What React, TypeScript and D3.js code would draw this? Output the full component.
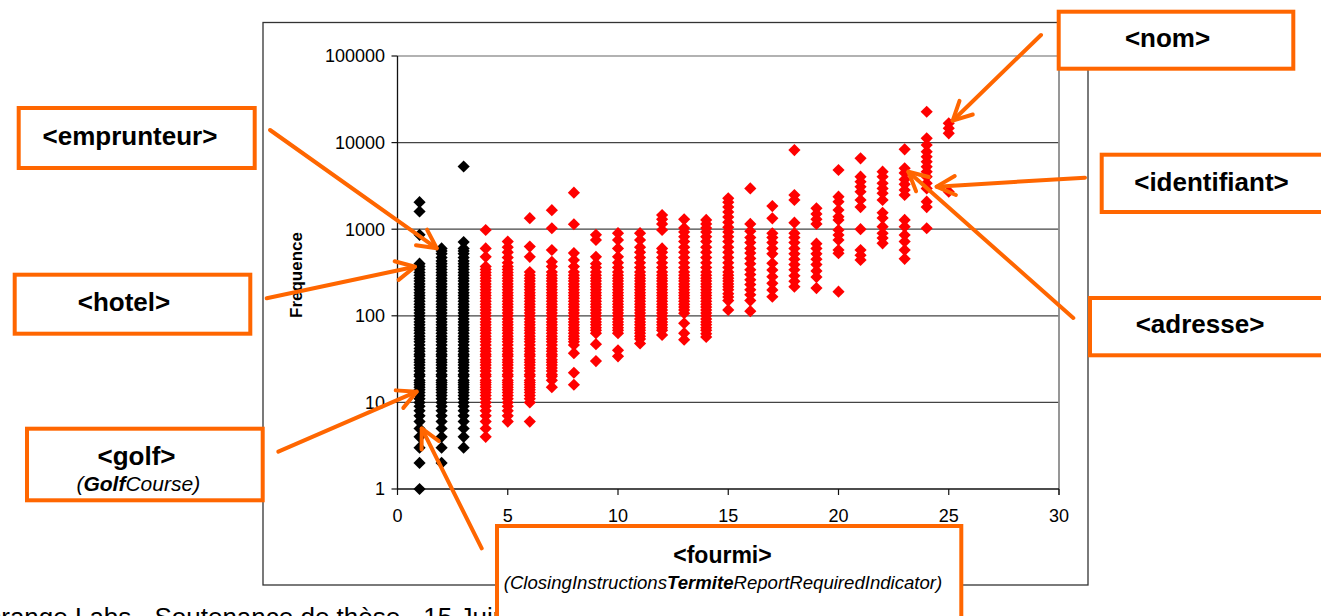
import React from 'react';
import * as d3 from 'd3';

// ---------- data ----------
const xTicks = [0, 5, 10, 15, 20, 25, 30];
const yTicks = [1, 10, 100, 1000, 10000, 100000];

const col1 = [1, 2, 3, 4, 5, 6, 7, 8, 9, 10, 11, 12, 13, 14, 15, 16, 17, 18, 20, 21, 23, 25, 27, 29, 31, 34, 36, 39, 42, 46, 50, 54, 58, 63, 68, 73, 79, 85, 92, 100, 108, 117, 126, 136, 147, 159, 172, 185, 200, 216, 233, 252, 272, 294, 317, 343, 370, 400, 860, 1600, 2050];
const col2 = [2, 3, 4, 5, 6, 7, 8, 9, 10, 11, 12, 13, 14, 15, 16, 17, 18, 20, 21, 23, 25, 27, 29, 31, 34, 36, 39, 42, 46, 50, 54, 58, 63, 68, 73, 79, 85, 92, 100, 108, 117, 126, 136, 147, 159, 172, 185, 200, 216, 233, 252, 272, 294, 317, 343, 370, 400, 430, 470, 520, 560, 600];
const col3 = [3, 4, 5, 6, 7, 8, 9, 10, 11, 12, 13, 14, 15, 16, 17, 18, 20, 21, 23, 25, 27, 29, 31, 34, 36, 39, 42, 46, 50, 54, 58, 63, 68, 73, 79, 85, 92, 100, 108, 117, 126, 136, 147, 159, 172, 185, 200, 216, 233, 252, 272, 294, 317, 343, 370, 400, 430, 470, 520, 560, 600, 710, 5300];
const col4 = [4, 5, 6, 7, 8, 9, 10, 11, 12, 13, 14, 15, 16, 17, 18, 20, 21, 23, 25, 27, 29, 31, 34, 36, 39, 42, 46, 50, 54, 58, 63, 68, 73, 79, 85, 92, 100, 108, 117, 126, 136, 147, 159, 172, 185, 200, 216, 233, 252, 272, 294, 317, 343, 370, 480, 600, 980];
const col5 = [6, 7, 8, 9, 10, 11, 12, 13, 14, 15, 16, 17, 18, 20, 21, 23, 25, 27, 29, 31, 34, 36, 39, 42, 46, 50, 54, 58, 63, 68, 73, 79, 85, 92, 100, 108, 117, 126, 136, 147, 159, 172, 185, 200, 216, 233, 252, 272, 294, 317, 343, 370, 410, 470, 540, 620, 720];
const col6 = [6, 10, 11, 12, 13, 14, 15, 16, 17, 18, 20, 21, 23, 25, 27, 29, 31, 34, 36, 39, 42, 46, 50, 54, 58, 63, 68, 73, 79, 85, 92, 100, 108, 117, 126, 136, 147, 159, 172, 185, 200, 216, 233, 252, 272, 294, 320, 480, 630, 1340];
const col7 = [15, 18, 20, 21, 23, 25, 27, 29, 31, 34, 36, 39, 42, 46, 50, 54, 58, 63, 68, 73, 79, 85, 92, 100, 108, 117, 126, 136, 147, 159, 172, 185, 200, 216, 233, 252, 272, 294, 320, 370, 420, 575, 1025, 1660];
const col8 = [16, 22, 37, 46, 50, 54, 58, 63, 68, 73, 79, 85, 92, 100, 108, 117, 126, 136, 147, 159, 172, 185, 200, 216, 233, 252, 272, 294, 320, 370, 440, 530, 1140, 2640];
const col9 = [30, 47, 63, 68, 73, 79, 85, 92, 100, 108, 117, 126, 136, 147, 159, 172, 185, 200, 216, 233, 252, 272, 294, 320, 360, 400, 480, 750, 860];
const col10 = [34, 40, 63, 68, 73, 79, 85, 92, 100, 108, 117, 126, 136, 147, 159, 172, 185, 200, 216, 233, 252, 272, 294, 320, 360, 410, 480, 600, 750, 900];
const col11 = [48, 54, 58, 63, 68, 73, 79, 85, 92, 100, 108, 117, 126, 136, 147, 159, 172, 185, 200, 216, 233, 252, 272, 294, 320, 360, 410, 470, 540, 620, 750, 900];
const col12 = [60, 68, 73, 79, 85, 92, 100, 108, 117, 126, 136, 147, 159, 172, 185, 200, 216, 233, 252, 272, 294, 320, 360, 410, 470, 540, 600, 980, 1150, 1300, 1460];
const col13 = [53, 63, 82, 107, 117, 126, 136, 147, 159, 172, 185, 200, 216, 233, 252, 272, 294, 320, 360, 410, 470, 540, 620, 720, 820, 930, 1030, 1300];
const col14 = [57, 62, 68, 73, 79, 85, 92, 100, 108, 117, 126, 136, 147, 159, 172, 185, 200, 216, 233, 252, 272, 294, 320, 360, 410, 470, 540, 620, 720, 820, 930, 1030, 1150, 1280];
const col15 = [117, 150, 165, 180, 200, 216, 233, 252, 272, 294, 320, 360, 410, 470, 540, 620, 720, 820, 930, 1050, 1200, 1380, 1580, 1800, 2050, 2270];
const col16 = [113, 150, 175, 200, 230, 260, 300, 340, 400, 460, 530, 600, 700, 800, 950, 1150, 2960];
const col17 = [166, 199, 237, 283, 338, 404, 520, 600, 700, 800, 898, 1335, 1850];
const col18 = [217, 250, 290, 340, 390, 450, 520, 600, 700, 800, 900, 1190, 2175, 2480, 8200];
const col19 = [209, 280, 330, 390, 450, 520, 600, 680, 1150, 1300, 1500, 1740];
const col20 = [190, 527, 575, 750, 857, 980, 1280, 1395, 1667, 2080, 2375, 4830];
const col21 = [441, 500, 575, 1000, 1800, 2175, 2710, 3100, 3540, 4040, 6580];
const col22 = [687, 790, 898, 1070, 1350, 1550, 2175, 2600, 2960, 3390, 4040, 4620];
const col23 = [455, 575, 720, 857, 1070, 1280, 2480, 2836, 3300, 3760, 4470, 5050, 8360];
const col24 = [1025, 1800, 2080, 2960, 3390, 4040, 4620, 5270, 6020, 6870, 7860, 9380, 11200, 22700];
const col25 = [2710, 12800, 14600, 16700];

const columns: [number, number[]][] = [
  [1, col1], [2, col2], [3, col3], [4, col4], [5, col5], [6, col6], [7, col7],
  [8, col8], [9, col9], [10, col10], [11, col11], [12, col12], [13, col13],
  [14, col14], [15, col15], [16, col16], [17, col17], [18, col18], [19, col19],
  [20, col20], [21, col21], [22, col22], [23, col23], [24, col24], [25, col25],
];
const lastBlackX = 3;

// annotation targets (data coordinates)
const targets: { [k: string]: [number, number] } = {
  emprunteur: [1.78, 602],
  hotel: [0.79, 369],
  golf: [0.87, 13.3],
  fourmi: [1.1, 5.0],
  nom: [25.18, 17900],
  identifiant: [24.45, 3100],
  adresse: [23.17, 4610],
};

// ---------- layout ----------
const W = 1321, H = 616;
const PLOT = { left: 397.5, right: 1059, top: 56, bottom: 489 };
const FRAME = { x: 263, y: 22.5, w: 825, h: 562.5 };
const FONT = '"Liberation Sans", Arial, Helvetica, sans-serif';
const ORANGE = '#FF6600';

const boxes = [
  { key: 'emprunteur', x: 18.7, y: 108, w: 236, h: 60, from: [270, 130] },
  { key: 'hotel', x: 14.7, y: 274.7, w: 235.6, h: 59, from: [266.7, 298.3] },
  { key: 'golf', x: 27, y: 428.7, w: 235.7, h: 71.6, from: [278.3, 451.7] },
  { key: 'fourmi', x: 497, y: 526, w: 464.3, h: 130, from: [481.7, 548.3] },
  { key: 'nom', x: 1058.7, y: 11.7, w: 234.6, h: 57, from: [1041, 35] },
  { key: 'identifiant', x: 1101.7, y: 154.7, w: 260, h: 57.3, from: [1085, 177.7] },
  { key: 'adresse', x: 1090, y: 298, w: 260, h: 57.3, from: [1073.3, 318] },
];

function Arrow({ x1, y1, x2, y2 }: { x1: number; y1: number; x2: number; y2: number }) {
  const ang = Math.atan2(y1 - y2, x1 - x2);
  const L = 21;
  const a = (27 * Math.PI) / 180;
  const p1 = [x2 + L * Math.cos(ang + a), y2 + L * Math.sin(ang + a)];
  const p2 = [x2 + L * Math.cos(ang - a), y2 + L * Math.sin(ang - a)];
  return (
    <g stroke={ORANGE} strokeWidth={4} strokeLinecap="round" strokeLinejoin="round" fill="none">
      <line x1={x1} y1={y1} x2={x2} y2={y2} />
      <polyline points={`${p1[0]},${p1[1]} ${x2},${y2} ${p2[0]},${p2[1]}`} />
    </g>
  );
}

export default function App() {
  const x = d3.scaleLinear().domain([0, 30]).range([PLOT.left, PLOT.right]);
  const y = d3.scaleLog().domain([1, 100000]).range([PLOT.bottom, PLOT.top]);
  const diamond = d3.symbol().type(d3.symbolSquare).size(74)() as string;

  const points: { cx: number; v: number; black: boolean }[] = [];
  columns.forEach(([cx, vals]) => vals.forEach((v) => points.push({ cx, v, black: cx <= lastBlackX })));

  return (
    <svg width={W} height={H} style={{ position: 'absolute', left: 0, top: 0, background: '#fff' }} fontFamily={FONT}>
      <rect x={0} y={0} width={W} height={H} fill="#fff" />
      {/* footer text (partly hidden, as in the slide) */}
      <text x={-19} y={626} fontSize={26} fill="#000">Orange Labs - Soutenance de thèse - 15 Juin 2007</text>
      {/* chart frame */}
      <rect x={FRAME.x} y={FRAME.y} width={FRAME.w} height={FRAME.h} fill="#fff" stroke="#333" strokeWidth={1.3} />
      {/* gridlines */}
      {yTicks.slice(1).map((t) => (
        <line key={'g' + t} x1={PLOT.left} x2={PLOT.right} y1={y(t)} y2={y(t)} stroke={t === 100000 ? '#666' : '#444'} strokeWidth={1.2} />
      ))}
      {/* right border of plot area */}
      <line x1={PLOT.right} x2={PLOT.right} y1={PLOT.top} y2={PLOT.bottom + 6} stroke="#8c8c8c" strokeWidth={1.8} />
      {/* axes */}
      <line x1={PLOT.left} x2={PLOT.left} y1={PLOT.top} y2={PLOT.bottom} stroke="#111" strokeWidth={1.3} />
      <line x1={PLOT.left} x2={PLOT.right} y1={PLOT.bottom} y2={PLOT.bottom} stroke="#111" strokeWidth={1.3} />
      {yTicks.map((t) => (
        <g key={'y' + t}>
          <line x1={PLOT.left - 6} x2={PLOT.left} y1={y(t)} y2={y(t)} stroke="#111" strokeWidth={1.2} />
          <text x={385} y={y(t)} dy="0.36em" textAnchor="end" fontSize={18}>{t}</text>
        </g>
      ))}
      {xTicks.map((t) => (
        <g key={'x' + t}>
          <line x1={x(t)} x2={x(t)} y1={PLOT.bottom} y2={PLOT.bottom + 6} stroke="#111" strokeWidth={1.2} />
          <text x={x(t)} y={522} textAnchor="middle" fontSize={18}>{t}</text>
        </g>
      ))}
      <text transform="translate(302,275) rotate(-90)" textAnchor="middle" fontSize={17} fontWeight="bold">Frequence</text>
      {/* points */}
      {points.map((p, i) => (
        <path key={i} d={diamond} transform={`translate(${x(p.cx)},${y(p.v)}) rotate(45)`} fill={p.black ? '#000' : '#FF0000'} />
      ))}
      {/* boxes */}
      {boxes.map((b) => (
        <rect key={'b' + b.key} x={b.x} y={b.y} width={b.w} height={b.h} fill="#fff" stroke={ORANGE} strokeWidth={4} />
      ))}
      <g fontWeight="bold" fontSize={26} textAnchor="middle">
        <text x={130} y={145}>&lt;emprunteur&gt;</text>
        <text x={124} y={311}>&lt;hotel&gt;</text>
        <text x={136.5} y={465}>&lt;golf&gt;</text>
        <text x={722.5} y={563} fontSize={23}>&lt;fourmi&gt;</text>
        <text x={1167.5} y={47}>&lt;nom&gt;</text>
        <text x={1211.5} y={191}>&lt;identifiant&gt;</text>
        <text x={1200} y={333}>&lt;adresse&gt;</text>
      </g>
      <text x={138.3} y={491} textAnchor="middle" fontSize={21} fontStyle="italic">
        (<tspan fontWeight="bold">Golf</tspan>Course)
      </text>
      <text x={723} y={588.5} textAnchor="middle" fontSize={18.6} fontStyle="italic">
        (ClosingInstructions<tspan fontWeight="bold">Termite</tspan>ReportRequiredIndicator)
      </text>
      {/* arrows */}
      {boxes.map((b) => {
        const t = targets[b.key];
        return <Arrow key={'a' + b.key} x1={b.from[0]} y1={b.from[1]} x2={x(t[0])} y2={y(t[1])} />;
      })}
    </svg>
  );
}
